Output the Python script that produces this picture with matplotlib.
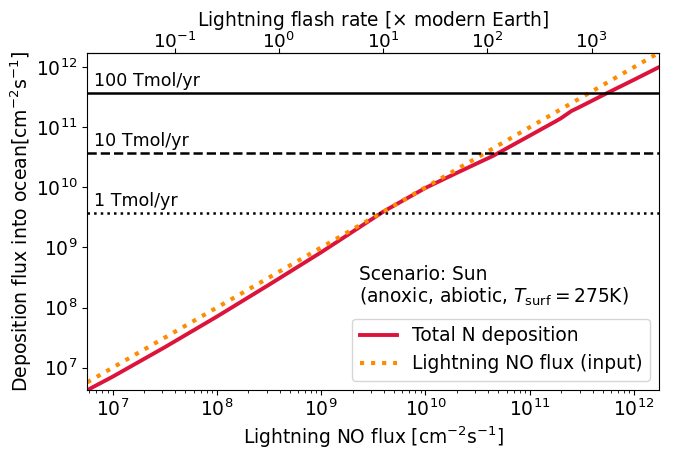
import numpy as np
import matplotlib
matplotlib.use("Agg")
import matplotlib.pyplot as plt

# Lightning NO flux (input) [cm^-2 s^-1], log10
no_flux_log = [6.757, 7.0, 7.5, 8.0, 8.5, 9.0, 9.3, 9.6, 10.0, 10.3, 10.65,
               11.0, 11.25, 11.30, 11.40, 11.46, 11.75, 12.0, 12.24]
# Total N deposition [cm^-2 s^-1], log10
dep_log = [6.627, 6.85, 7.34, 7.85, 8.38, 8.92, 9.26, 9.60, 9.99, 10.24, 10.525,
           10.86, 11.10, 11.15, 11.27, 11.32, 11.575, 11.79, 12.0]

# Reference deposition levels
levels = [100, 10, 1]  # Tmol/yr
level_styles = ['-', '--', ':']
level_labels = ['100 Tmol/yr', '10 Tmol/yr', '1 Tmol/yr']

# Top axis ticks (flash rate, x modern Earth)
flash_ticks = [0.1, 1, 10, 100, 1000]
modern_earth_flux = 3.93e8  # cm^-2 s^-1 for flash rate = 1

AVOG = 6.022e23
SEC_PER_YR = 3.156e7
EARTH_AREA = 5.1e18  # cm^2

x_in = 10 ** np.array(no_flux_log)
y_dep = 10 ** np.array(dep_log)

fig = plt.figure(figsize=(6.76, 4.5), dpi=100)
ax = fig.add_axes([0.129, 0.133, 0.846, 0.750])

ax.plot(x_in, y_dep, color='crimson', lw=2.8, label='Total N deposition')
ax.plot(x_in, x_in, color='darkorange', lw=3, ls=':', label='Lightning NO flux (input)')

for lv, st, lb in zip(levels, level_styles, level_labels):
    yv = lv * 1e12 * AVOG / SEC_PER_YR / EARTH_AREA
    ax.axhline(yv, color='black', ls=st, lw=1.8)
    ax.text(0.012, yv * 1.12, lb, transform=ax.get_yaxis_transform(),
            fontsize=12.6, va='bottom', ha='left')

ax.set_xscale('log')
ax.set_yscale('log')
ax.set_xlim(x_in[0], x_in[-1])
ax.set_ylim(y_dep[0], x_in[-1])
ax.yaxis.set_minor_locator(matplotlib.ticker.NullLocator())

ax.set_xlabel(r'Lightning NO flux [cm$^{-2}$s$^{-1}$]', fontsize=13.4, labelpad=3)
ax.set_ylabel(r'Deposition flux into ocean[cm$^{-2}$s$^{-1}$]', fontsize=13.6, labelpad=1)
ax.tick_params(labelsize=13.5)
ax.tick_params(axis='x', pad=2.5)

sec = ax.secondary_xaxis('top', functions=(lambda v: v / modern_earth_flux,
                                           lambda v: v * modern_earth_flux))
sec.set_xticks(flash_ticks)
sec.xaxis.set_minor_locator(matplotlib.ticker.NullLocator())
sec.set_xlabel(r'Lightning flash rate [$\times$ modern Earth]', fontsize=13.4, labelpad=4.5)
sec.tick_params(labelsize=13.3, pad=-3)

ax.text(0.475, 0.372, 'Scenario: Sun\n' + r'(anoxic, abiotic, $T_{\rm surf} = 275$K)',
        transform=ax.transAxes, fontsize=13.4, va='top', ha='left', linespacing=1.15)

ax.legend(loc='lower right', fontsize=13.4, frameon=True)

fig.savefig('out.png', dpi=100)
